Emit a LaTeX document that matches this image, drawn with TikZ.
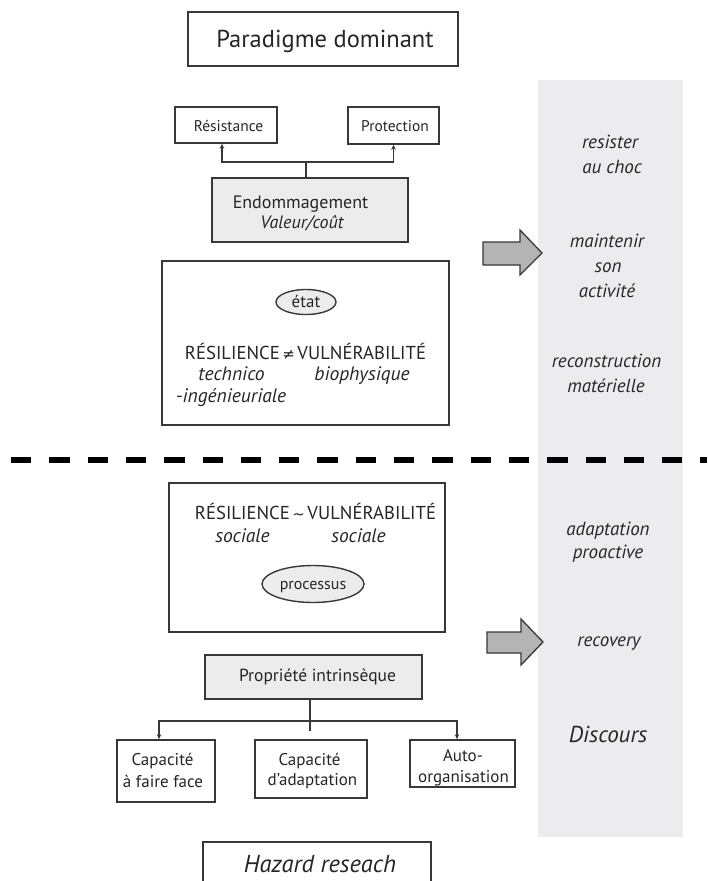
\documentclass[tikz,border=0pt]{standalone}
\usepackage{fontspec}
\setmainfont{PT Sans}
\newfontfamily\symfont{DejaVu Sans}
\usetikzlibrary{arrows.meta,shapes.geometric}
\definecolor{ink}{HTML}{262626}
\definecolor{edge}{HTML}{383838}
\definecolor{boxgrey}{HTML}{ECECEC}
\definecolor{colgrey}{HTML}{ECECEE}
\definecolor{arrowgrey}{HTML}{B4B4B4}
\newcommand{\fs}[1]{\fontsize{#1}{#1}\selectfont}
\begin{document}
\begin{tikzpicture}[x=1pt,y=-1pt,
  box/.style={draw=edge, line width=1.5pt, inner sep=0pt},
  greybox/.style={box, fill=boxgrey},
  oval/.style={ellipse, draw=edge, line width=1.4pt, fill=boxgrey, inner sep=0pt},
  lbl/.style={text=ink, inner sep=0pt, anchor=base},
  link/.style={draw=edge, line width=1.3pt},
  tip/.style={link, -{Stealth[length=5pt,width=4.5pt]}},
  bigarrow/.style={draw=edge, line width=1.3pt, fill=arrowgrey, line join=miter},
  sep/.style={line width=6pt, dash pattern=on 20.3pt off 18pt, draw=black},
  side/.style={lbl, font=\fs{19}\itshape}
]
\clip (0,0) rectangle (707,881);
\fill[white] (0,0) rectangle (707,881);

% grey column on the right
\fill[colgrey] (538,80) rectangle (683,837);

% ---------- upper half ----------
\node[box, minimum width=270pt, minimum height=54pt] (title) at (323,39) {};
\node[lbl, font=\fs{24.5}] (titletxt) at (325,47) {Paradigme dominant};

\node[box, minimum width=102pt, minimum height=36pt] (res) at (226,125) {};
\node[lbl, font=\fs{15.5}] at (228.5,131) {Résistance};
\node[box, minimum width=91pt, minimum height=37pt] (prot) at (393.5,125.5) {};
\node[lbl, font=\fs{15.5}] at (395,131) {Protection};

\node[greybox, minimum width=196pt, minimum height=64pt] (endo) at (310,210) {};
\node[lbl, font=\fs{18}] at (300.5,208) {Endommagement};
\node[lbl, font=\fs{18}\itshape] at (302,228) {Valeur/coût};

\coordinate (j1) at (306,162);
\draw[link] (j1 |- endo.north) -- (j1);
\draw[tip] (j1) -| ([xshift=-4pt]res.south);
\draw[tip] (j1) -| (prot.south);

\node[box, minimum width=287pt, minimum height=164pt] (state) at (305.5,343) {};
\node[oval, minimum width=60pt, minimum height=25pt] (etat) at (306,302) {};
\node[lbl, font=\fs{17}] at (306,307) {état};
\node[lbl, font=\fs{18.7}] at (305.5,359) {RÉSILIENCE{\symfont\fs{15}\,≠\,}VULNÉRABILITÉ};
\node[lbl, font=\fs{19.5}\itshape] at (231.5,380) {technico};
\node[lbl, font=\fs{19.5}\itshape] at (231,402) {-ingénieuriale};
\node[lbl, font=\fs{19.5}\itshape] at (362,380) {biophysique};

\draw[bigarrow] (483,242) -- (520,242) -- (520,230) -- (542,253) -- (520,275)
  -- (520,265) -- (483,265) -- cycle;

\node[side] at (610,148) {resister};
\node[side] at (612,173) {au choc};
\node[side] at (607,247) {maintenir};
\node[side] at (608,272) {son};
\node[side] at (607,297) {activité};
\node[side] at (606.5,367) {reconstruction};
\node[side] at (606,392) {matérielle};

% ---------- separator ----------
\draw[sep] (11,460) -- (707,460);

% ---------- lower half ----------
\node[box, minimum width=276pt, minimum height=149pt] (social) at (307,557.5) {};
\node[lbl, font=\fs{18.7}] at (315.5,519) {RÉSILIENCE{\symfont\fs{15}\,\textasciitilde\,}VULNÉRABILITÉ};
\node[lbl, font=\fs{19.5}\itshape] at (242.5,542) {sociale};
\node[lbl, font=\fs{19.5}\itshape] at (358.5,542) {sociale};
\node[oval, minimum width=102pt, minimum height=37pt] (proc) at (313,584) {};
\node[lbl, font=\fs{16}] at (313,589) {processus};

\draw[bigarrow] (487,632) -- (521,632) -- (521,619) -- (543,642) -- (521,665)
  -- (521,653) -- (487,653) -- cycle;

\node[side] at (608,535) {adaptation};
\node[side] at (608,558) {proactive};
\node[side] at (609,646) {recovery};
\node[lbl, font=\fs{23}\itshape] at (608,742) {Discours};

\node[greybox, minimum width=217pt, minimum height=44pt] (prop) at (313.5,677) {};
\node[lbl, font=\fs{17.5}] at (317.5,681) {Propriété intrinsèque};

\node[box, minimum width=98pt, minimum height=62pt] (cap1) at (166,771) {};
\node[lbl, font=\fs{17}] at (162.5,765) {Capacité};
\node[lbl, font=\fs{17}] at (163,787) {à faire face};
\node[box, minimum width=112pt, minimum height=58pt] (cap2) at (311,769) {};
\node[lbl, font=\fs{17}] at (309.5,765) {Capacité};
\node[lbl, font=\fs{17}] at (312.5,785) {d'adaptation};
\node[box, minimum width=105pt, minimum height=47pt] (cap3) at (462.5,763.5) {};
\node[lbl, font=\fs{17}] at (463,761) {Auto-};
\node[lbl, font=\fs{17}] at (463.5,782) {organisation};

% branching from the shared property; the stem runs a little past the bar
\coordinate (j2) at (310,721);
\coordinate (stemend) at (310,731);
\draw[link] (j2 |- prop.south) -- (stemend);
\draw[tip] (j2) -| ([xshift=-7pt]cap1.north);
\draw[tip] (j2) -| ([xshift=-5.5pt]cap3.north);

\node[box, minimum width=228pt, minimum height=56pt] (hazard) at (317,870) {};
\node[lbl, font=\fs{24.5}\itshape] at (320,872) {Hazard reseach};
\end{tikzpicture}
\end{document}
